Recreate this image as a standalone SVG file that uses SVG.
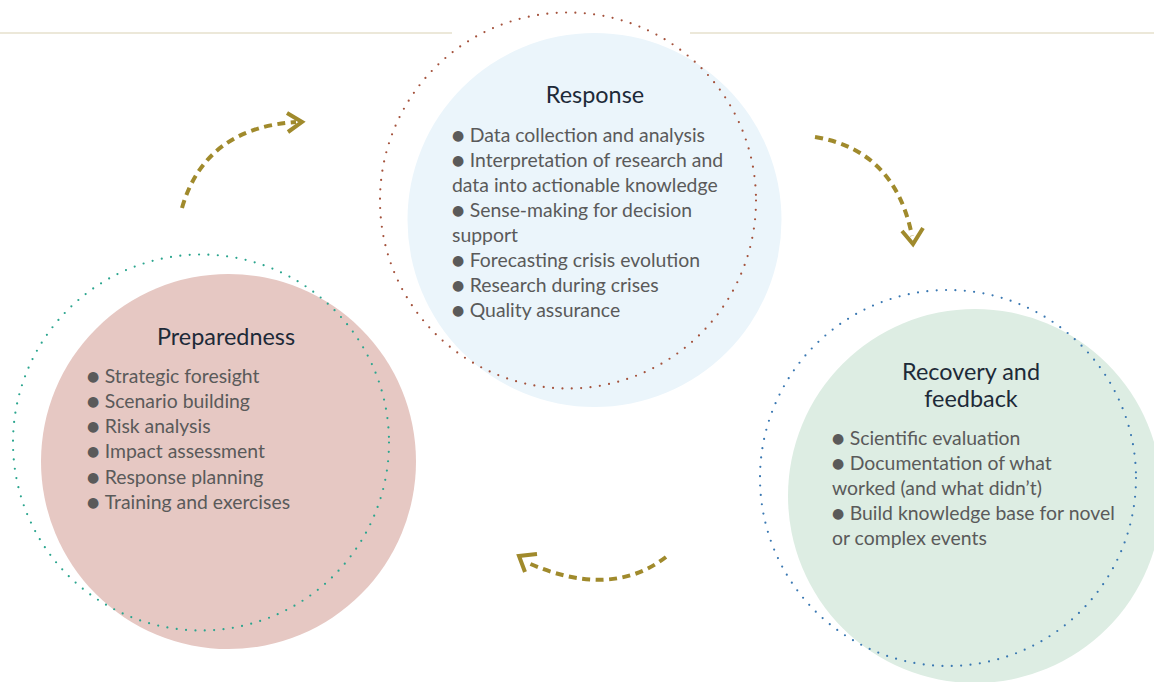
<svg xmlns="http://www.w3.org/2000/svg" width="1154" height="682" viewBox="0 0 1154 682">
<defs>
<style>
.title{font-family:Lato,"Liberation Sans",sans-serif;font-size:23.4px;fill:#1d2a38;text-anchor:middle}
.body{font-family:Lato,"Liberation Sans",sans-serif;font-size:19.4px;fill:#5a5a5a}
.b{font-family:"DejaVu Sans",sans-serif;font-size:14px;fill:#5a5a5a;baseline-shift:2.5px}
.dots{fill:none;stroke-width:2.2;stroke-linecap:round;stroke-dasharray:0 9.4}
.arrow{fill:none;stroke:#a08a2c;stroke-width:4}
.dash{stroke-dasharray:8 5.5}
</style>
</defs>
<rect width="1154" height="682" fill="#ffffff"/>
<g id="rule" stroke="#e6e0cc" stroke-width="1.5">
<line x1="0" y1="33" x2="452" y2="33"/>
<line x1="690" y1="33" x2="1154" y2="33"/>
</g>
<g id="preparedness">
<circle cx="228.5" cy="461.5" r="187.5" fill="#e6c8c3"/>
<circle cx="201" cy="442.5" r="188" class="dots" stroke="#2aa58e"/>
<text class="title" x="226" y="345">Preparedness</text>
<text class="body"><tspan class="b" x="87" y="383">●</tspan><tspan dx="5.5">Strategic foresight</tspan></text>
<text class="body"><tspan class="b" x="87" y="408">●</tspan><tspan dx="5.5">Scenario building</tspan></text>
<text class="body"><tspan class="b" x="87" y="433">●</tspan><tspan dx="5.5">Risk analysis</tspan></text>
<text class="body"><tspan class="b" x="87" y="458">●</tspan><tspan dx="5.5">Impact assessment</tspan></text>
<text class="body"><tspan class="b" x="87" y="484">●</tspan><tspan dx="5.5">Response planning</tspan></text>
<text class="body"><tspan class="b" x="87" y="509">●</tspan><tspan dx="5.5">Training and exercises</tspan></text>
</g>
<g id="response">
<circle cx="594.5" cy="220" r="187" fill="#ebf5fb"/>
<circle cx="568" cy="200.5" r="188" class="dots" stroke="#a4523c"/>
<text class="title" x="595" y="103">Response</text>
<text class="body"><tspan class="b" x="452" y="142">●</tspan><tspan dx="5.5">Data collection and analysis</tspan></text>
<text class="body"><tspan class="b" x="452" y="167">●</tspan><tspan dx="5.5">Interpretation of research and</tspan></text>
<text class="body" x="452" y="192">data into actionable knowledge</text>
<text class="body"><tspan class="b" x="452" y="217">●</tspan><tspan dx="5.5">Sense-making for decision</tspan></text>
<text class="body" x="452" y="242">support</text>
<text class="body"><tspan class="b" x="452" y="267">●</tspan><tspan dx="5.5">Forecasting crisis evolution</tspan></text>
<text class="body"><tspan class="b" x="452" y="292">●</tspan><tspan dx="5.5">Research during crises</tspan></text>
<text class="body"><tspan class="b" x="452" y="317">●</tspan><tspan dx="5.5">Quality assurance</tspan></text>
</g>
<g id="recovery">
<circle cx="975" cy="496" r="187" fill="#ddede3"/>
<circle cx="948" cy="478" r="188" class="dots" stroke="#3a78b2"/>
<text class="title" x="971" y="380">Recovery and</text>
<text class="title" x="971" y="407">feedback</text>
<text class="body"><tspan class="b" x="832" y="445">●</tspan><tspan dx="5.5">Scientific evaluation</tspan></text>
<text class="body"><tspan class="b" x="832" y="470">●</tspan><tspan dx="5.5">Documentation of what</tspan></text>
<text class="body" x="832" y="495">worked (and what didn’t)</text>
<text class="body"><tspan class="b" x="832" y="520">●</tspan><tspan dx="5.5">Build knowledge base for novel</tspan></text>
<text class="body" x="832" y="545">or complex events</text>
</g>
<g id="connectors">
<path class="arrow dash" d="M182,208 Q205,128 296,122"/>
<path class="arrow" d="M287,113 L302,122 L288,132"/>
<path class="arrow dash" d="M815,137 Q895,150 912,236"/>
<path class="arrow" d="M902,231 L913,244 L923,228"/>
<path class="arrow dash" d="M666,557 Q610,600 526,562"/>
<path class="arrow" d="M537,554 L519,556 L525,572"/>
</g>
</svg>
